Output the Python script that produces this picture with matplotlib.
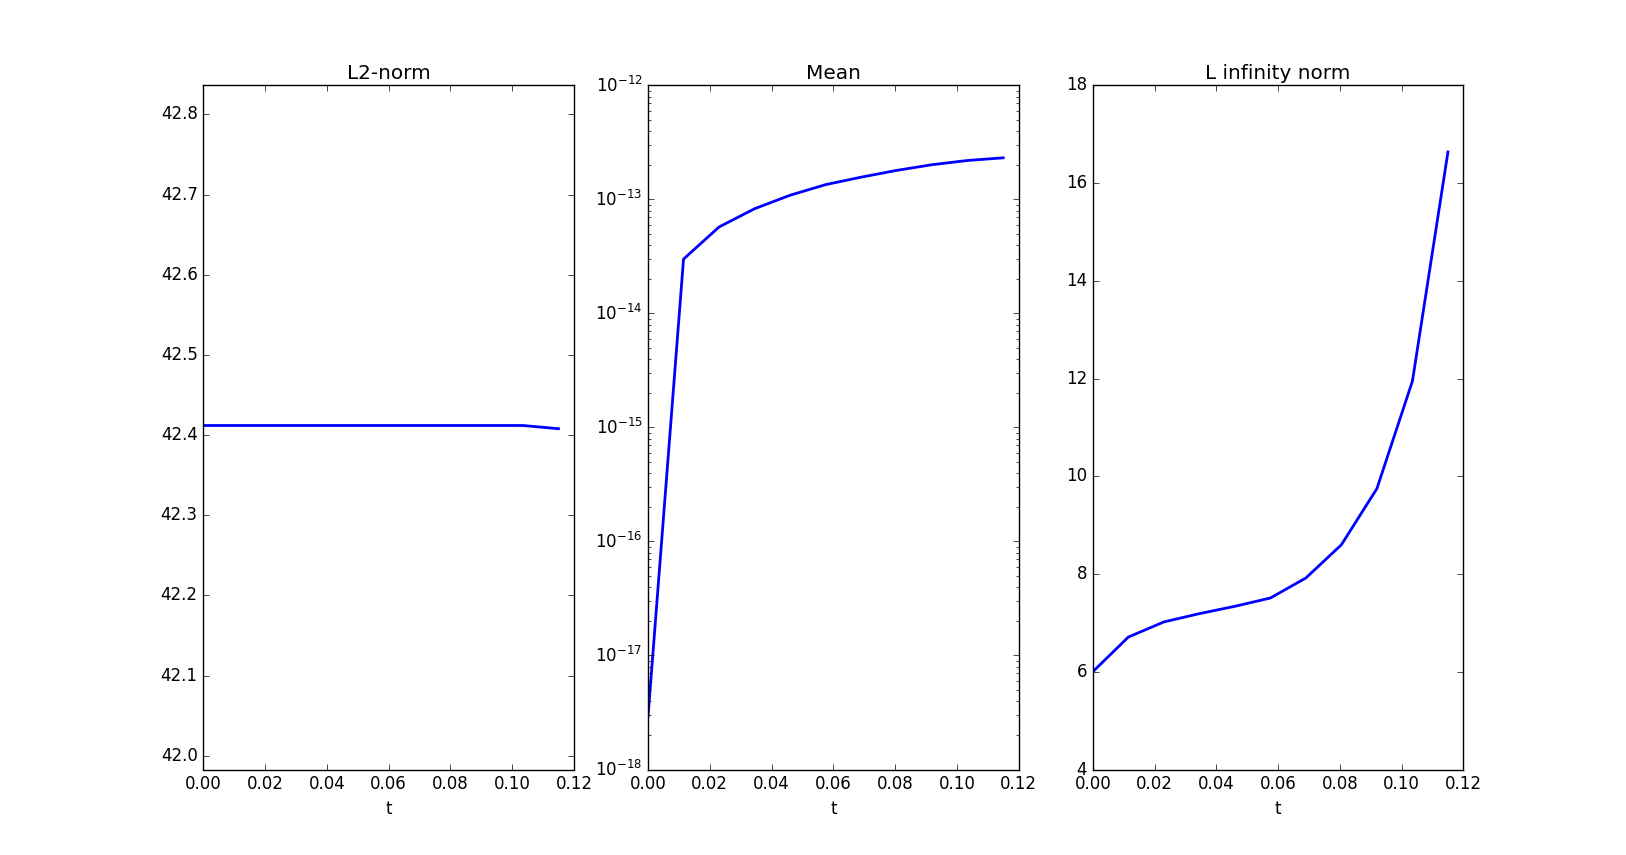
import numpy as np
import matplotlib
matplotlib.use("Agg")
import matplotlib.pyplot as plt
from matplotlib.ticker import MultipleLocator

plt.style.use('classic')

# time steps
t = [0.0, 0.0115, 0.023, 0.0345, 0.046, 0.0575, 0.069, 0.0805, 0.092, 0.1035, 0.115]

l2_norm = [42.412, 42.412, 42.412, 42.412, 42.412, 42.412, 42.412, 42.412, 42.412, 42.412, 42.408]
mean = [2.9e-18, 3.0e-14, 5.74e-14, 8.3e-14, 1.09e-13, 1.35e-13, 1.57e-13, 1.80e-13, 2.02e-13, 2.20e-13, 2.32e-13]
linf_norm = [6.0, 6.71, 7.02, 7.19, 7.34, 7.51, 7.92, 8.6, 9.75, 11.95, 16.64]

fig = plt.figure(figsize=(16.26, 8.55), dpi=100)

# L2 norm
ax1 = fig.add_subplot(1, 3, 1)
ax1.plot(t, l2_norm, 'b-', linewidth=2)
ax1.set_title('L2-norm')
ax1.set_xlabel('t')
ax1.set_xlim(0, 0.12)
ax1.set_ylim(41.983, 42.836)
ax1.yaxis.set_major_locator(MultipleLocator(0.1))
ax1.ticklabel_format(axis='y', useOffset=False)

# mean, log scale
ax2 = fig.add_subplot(1, 3, 2)
ax2.semilogy(t, mean, 'b-', linewidth=2)
ax2.set_title('Mean')
ax2.set_xlabel('t')
ax2.set_xlim(0, 0.12)
ax2.set_ylim(1e-18, 1e-12)

# L infinity norm
ax3 = fig.add_subplot(1, 3, 3)
ax3.plot(t, linf_norm, 'b-', linewidth=2)
ax3.set_title('L infinity norm')
ax3.set_xlabel('t')
ax3.set_xlim(0, 0.12)
ax3.set_ylim(4, 18)

fig.savefig('out.png', dpi=100)
